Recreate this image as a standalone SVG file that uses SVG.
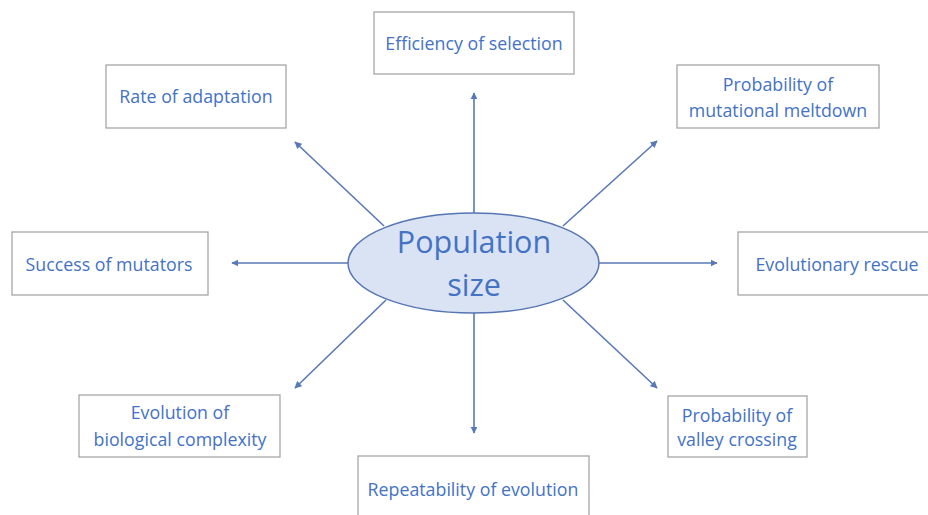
<svg xmlns="http://www.w3.org/2000/svg" width="928" height="515" viewBox="0 0 928 515">
  <style>
    .box { fill: #ffffff; stroke: #a6a6a6; stroke-width: 1.3; }
    .lbl { font-family: "Open Sans", "Liberation Sans", sans-serif; font-size: 17.8px; fill: #4472c4; text-anchor: middle; }
    .hub { fill: #dae3f3; stroke: #5575b3; stroke-width: 1.5; }
    .hubtxt { font-family: "Open Sans", "Liberation Sans", sans-serif; font-size: 30.5px; fill: #4472c4; text-anchor: middle; }
    .conn { stroke: #5878b8; stroke-width: 1.6; fill: none; marker-end: url(#tip); }
  </style>
  <defs>
    <marker id="tip" viewBox="0 0 10 10" refX="9" refY="5" markerWidth="4.5" markerHeight="4.5" orient="auto" markerUnits="strokeWidth">
      <path d="M0,0 L10,5 L0,10 Z" fill="#5878b8"/>
    </marker>
  </defs>
  <rect width="928" height="515" fill="#ffffff"/>

  <g id="connectors">
    <line class="conn" x1="474" y1="213" x2="474" y2="93"/>
    <line class="conn" x1="384" y1="226" x2="295" y2="142"/>
    <line class="conn" x1="563" y1="226" x2="657" y2="141"/>
    <line class="conn" x1="348" y1="263" x2="232" y2="263"/>
    <line class="conn" x1="599" y1="263" x2="717" y2="263"/>
    <line class="conn" x1="386" y1="300" x2="295" y2="388"/>
    <line class="conn" x1="563" y1="300" x2="657" y2="388"/>
    <line class="conn" x1="474" y1="313" x2="474" y2="433"/>
  </g>

  <g id="population-size">
    <ellipse class="hub" cx="473.5" cy="263" rx="125.5" ry="50"/>
    <text class="hubtxt" x="474" y="253">Population</text>
    <text class="hubtxt" x="474" y="296">size</text>
  </g>

  <g id="efficiency-of-selection">
    <rect class="box" x="374" y="12" width="200" height="62"/>
    <text class="lbl" x="474" y="50">Efficiency of selection</text>
  </g>

  <g id="rate-of-adaptation">
    <rect class="box" x="106" y="65" width="180" height="63"/>
    <text class="lbl" x="196" y="103">Rate of adaptation</text>
  </g>

  <g id="mutational-meltdown">
    <rect class="box" x="677" y="65" width="202" height="63"/>
    <text class="lbl" x="778" y="91">Probability of</text>
    <text class="lbl" x="778" y="117">mutational meltdown</text>
  </g>

  <g id="success-of-mutators">
    <rect class="box" x="12" y="232" width="196" height="63"/>
    <text class="lbl" x="109" y="271">Success of mutators</text>
  </g>

  <g id="evolutionary-rescue">
    <rect class="box" x="738" y="232" width="196" height="63"/>
    <text class="lbl" x="837" y="271">Evolutionary rescue</text>
  </g>

  <g id="biological-complexity">
    <rect class="box" x="79" y="395" width="201" height="62"/>
    <text class="lbl" x="180" y="419">Evolution of</text>
    <text class="lbl" x="180" y="446">biological complexity</text>
  </g>

  <g id="valley-crossing">
    <rect class="box" x="668" y="396" width="139" height="61"/>
    <text class="lbl" x="737" y="422">Probability of</text>
    <text class="lbl" x="737" y="446">valley crossing</text>
  </g>

  <g id="repeatability-of-evolution">
    <rect class="box" x="358" y="456" width="231" height="70"/>
    <text class="lbl" x="473" y="496">Repeatability of evolution</text>
  </g>
</svg>
